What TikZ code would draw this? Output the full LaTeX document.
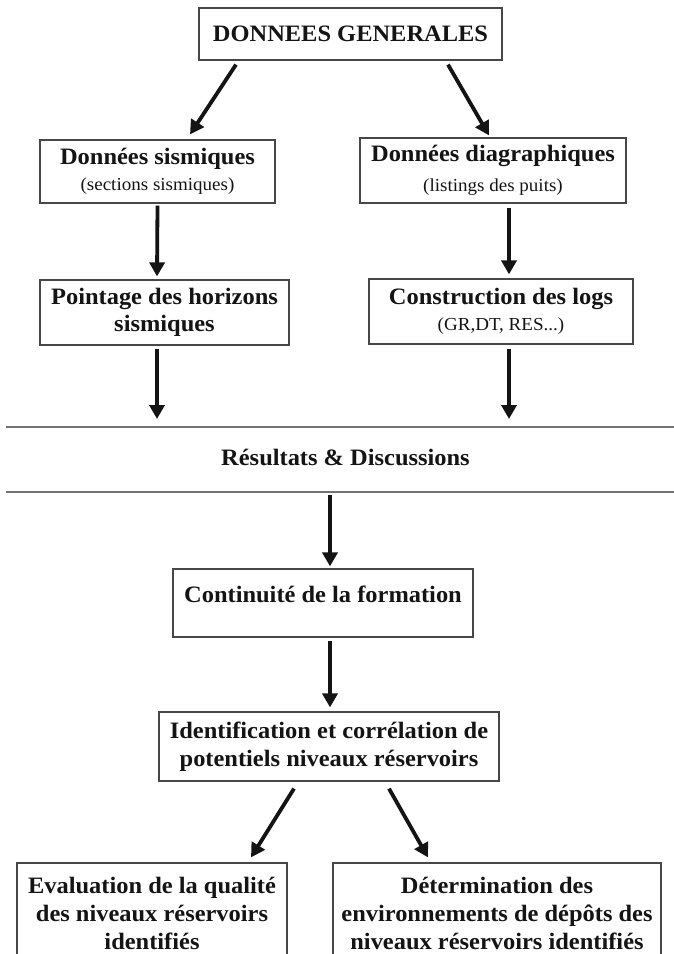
\documentclass[tikz,border=0pt]{standalone}
\usepackage{fontspec}
\setmainfont[FakeStretch=1.04]{Liberation Serif}
\usetikzlibrary{arrows.meta}
\newcommand\subf{\fontsize{18.3}{22}\selectfont\mdseries}
\begin{document}
\begin{tikzpicture}[x=1pt,y=-1pt,
  box/.style={draw=black!72, line width=1.2pt, fill=white, rectangle, inner sep=0pt,
    align=center, text=black!92, font=\fontsize{23.5}{28}\selectfont\bfseries},
  lbl/.style={inner sep=0pt, text=black!92, font=\fontsize{23.5}{28}\selectfont\bfseries},
  arr/.style={-{Triangle[width=15pt,length=14pt]}, line width=3.8pt, draw=black!92},
  sep/.style={draw=black!55, line width=2pt}]
\useasboundingbox (0,0) rectangle (674,954);
\clip (0,0) rectangle (674,954);
\fill[white] (0,0) rectangle (674,954);

% boxes
\node[box, minimum width=303pt, minimum height=52pt] (top) at (350.5,34) {DONNEES GENERALES};
\node[box, minimum width=235pt, minimum height=63pt] (sis) at (157.5,171.5)
  {Données sismiques\\[-2pt]\subf (sections sismiques)};
\node[box, minimum width=266pt, minimum height=65pt] (dia) at (493,170.5)
  {Données diagraphiques\\[2pt]\subf (listings des puits)};
\node[box, minimum width=249pt, minimum height=65pt] (poi) at (164.5,312.5)
  {Pointage des horizons\\[-1pt]sismiques};
\node[box, minimum width=264pt, minimum height=65pt] (con) at (501,311.5)
  {Construction des logs\\[-2pt]\subf (GR,DT, RES...)};

% separator band
\draw[sep] (6,427) -- (674,427);
\draw[sep] (6,492) -- (674,492);
\node[lbl] (res) at (345.5,457) {Résultats \& Discussions};
\coordinate (l1a) at (157,419);
\coordinate (l1b) at (509,419);
\coordinate (l2c) at (330,495);

\node[box, minimum width=300pt, minimum height=68pt, text height=16pt, text depth=18pt]
  (cont) at (323,603) {Continuité de la formation};
\node[box, minimum width=340pt, minimum height=69pt] (ident) at (329,746.5)
  {Identification et corrélation de\\potentiels niveaux réservoirs};
\node[box, minimum width=270pt, minimum height=100pt] (eval) at (152,913)
  {Evaluation de la qualité\\des niveaux réservoirs\\identifiés};
\node[box, minimum width=328pt, minimum height=100pt] (det) at (497,913)
  {Détermination des\\environnements de dépôts des\\niveaux réservoirs identifiés};

% arrows
\draw[arr] ([xshift=-114.5pt,yshift=-4pt]top.south) -- ([xshift=32.5pt,yshift=5pt]sis.north);
\draw[arr] ([xshift=97.5pt,yshift=-4pt]top.south) -- ([xshift=-4pt,yshift=2pt]dia.north);
\draw[arr] ([yshift=-2pt]sis.south) -- ([xshift=-7.5pt,yshift=3pt]poi.north);
\draw[arr] ([xshift=16pt,yshift=-4pt]dia.south) -- ([xshift=8pt,yshift=4pt]con.north);
\draw[arr] ([xshift=-7.5pt,yshift=-3pt]poi.south) -- (l1a);
\draw[arr] ([xshift=8pt,yshift=-4pt]con.south) -- (l1b);
\draw[arr] (l2c) -- ([xshift=7pt,yshift=2pt]cont.north);
\draw[arr] ([xshift=7pt,yshift=-3pt]cont.south) -- ([xshift=1pt,yshift=4pt]ident.north);
\draw[arr] ([xshift=-35pt,yshift=-7pt]ident.south) -- ([xshift=99pt,yshift=5pt]eval.north);
\draw[arr] ([xshift=60pt,yshift=-7pt]ident.south) -- ([xshift=-69pt,yshift=5pt]det.north);
\end{tikzpicture}
\end{document}
